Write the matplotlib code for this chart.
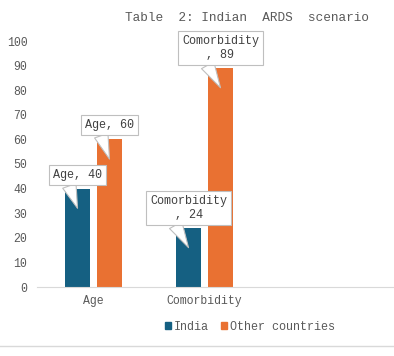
import matplotlib.pyplot as plt
from matplotlib.lines import Line2D
from matplotlib.patches import Patch

# data
categories = ['Age', 'Comorbidity']
series_names = ['India', 'Other countries']
india = [40, 24]
other = [60, 89]
label_texts = [['Age, 40', 'Comorbidity\n, 24'], ['Age, 60', 'Comorbidity\n, 89']]

colors = ['#156082', '#E97132']
grey = '#595959'
mono = 'Liberation Mono'

W, H = 394, 356
fig = plt.figure(figsize=(W / 100, H / 100), dpi=100)
ax = fig.add_axes([37 / W, (H - 287) / H, 1 - 37 / W, (287 - 41) / H])

x = list(range(len(categories)))
off = 0.144
width = 0.225
ax.bar([i - off for i in x], india, width, color=colors[0], zorder=2)
ax.bar([i + off for i in x], other, width, color=colors[1], zorder=2)

ax.set_xlim(-0.509, 2.707)
ax.set_ylim(0, 100)
ax.set_yticks(range(0, 101, 10))
ax.set_xticks(x)
ax.set_xticklabels(categories)
for lab in ax.get_xticklabels() + ax.get_yticklabels():
    lab.set_family(mono)
    lab.set_fontsize(8.3)
    lab.set_color(grey)
ax.tick_params(length=0)
ax.tick_params(axis='y', pad=7)
ax.tick_params(axis='x', pad=6)
for s in ['top', 'right', 'left']:
    ax.spines[s].set_visible(False)
ax.spines['bottom'].set_color('#D9D9D9')
ax.patch.set_alpha(0)

# callout labels
box_up = [[33, 40], [34, 40]]
for j, vals in enumerate([india, other]):
    xs = [i - off if j == 0 else i + off for i in x]
    for i, v in enumerate(vals):
        ax.annotate(label_texts[j][i], xy=(xs[i], v - 8), xycoords='data',
                    xytext=(0, box_up[j][i]), textcoords='offset pixels',
                    ha='center', va='center', family=mono, fontsize=8.5,
                    color='#404040', zorder=5,
                    bbox=dict(boxstyle='square,pad=0.35', fc='white', ec='#BFBFBF', lw=0.8),
                    arrowprops=dict(arrowstyle='wedge,tail_width=1.2', fc='white',
                                    ec='#BFBFBF', lw=0.8, shrinkA=0, shrinkB=0,
                                    relpos=(0.3, 0.0)))

fig.text(247 / W, 1 - 18 / H, 'Table  2: Indian  ARDS  scenario', ha='center', va='center',
         family=mono, fontsize=9.2, color=grey)

handles = [Patch(color=c) for c in colors]
fig.legend(handles, series_names, loc='center', bbox_to_anchor=(250 / W, (H - 327) / H),
           ncol=2, frameon=False, prop={'family': mono, 'size': 8.5},
           handlelength=0.55, handleheight=0.55, handletextpad=0.25, columnspacing=1.0,
           labelcolor=grey)

fig.add_artist(Line2D([0, 1], [(H - 346) / H] * 2, color='#D9D9D9', lw=1))

fig.savefig('out.png', dpi=100)
